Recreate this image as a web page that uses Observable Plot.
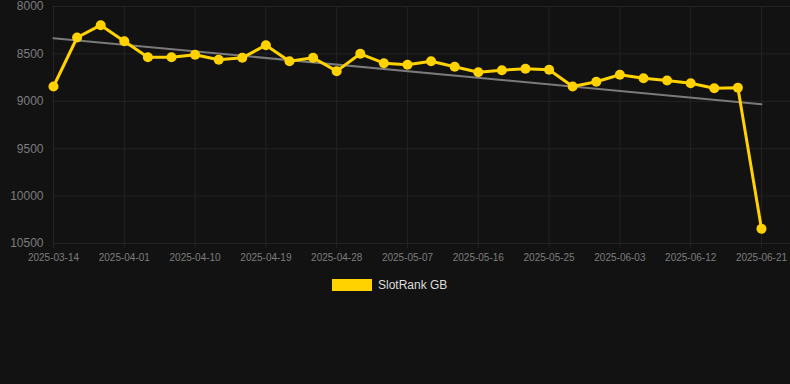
<!DOCTYPE html>
<html>
<head>
<meta charset="utf-8">
<script src="https://cdn.jsdelivr.net/npm/d3@7"></script>
<script src="https://cdn.jsdelivr.net/npm/@observablehq/plot@0.6"></script>
<style>
  html, body { margin: 0; padding: 0; background: #121212; }
  body { width: 790px; height: 384px; overflow: hidden; position: relative;
         font-family: "Liberation Sans", Arial, Helvetica, sans-serif; }
  #chart svg { display: block; }
  #legend { position: absolute; left: 332px; top: 278px; display: flex; align-items: center;
            font-size: 12px; color: #dddddd; }
  #legend .swatch { width: 40px; height: 12px; background: #FFD200; margin-right: 6px; }
</style>
</head>
<body>
<div id="chart"></div>
<div id="legend"><span class="swatch"></span><span id="legend-label"></span></div>
<script>
// ---- data ----
const seriesName = "SlotRank GB";
const dates = [
  "2025-03-14", "2025-03-26", "2025-03-29", "2025-04-01", "2025-04-04", "2025-04-07",
  "2025-04-10", "2025-04-13", "2025-04-16", "2025-04-19", "2025-04-22", "2025-04-25",
  "2025-04-28", "2025-05-01", "2025-05-04", "2025-05-07", "2025-05-10", "2025-05-13",
  "2025-05-16", "2025-05-19", "2025-05-22", "2025-05-25", "2025-05-28", "2025-05-31",
  "2025-06-03", "2025-06-06", "2025-06-09", "2025-06-12", "2025-06-15", "2025-06-18",
  "2025-06-21"
];
const ranks = [
  8844, 8327, 8197, 8366, 8535, 8535, 8509, 8562, 8541, 8408,
  8577, 8541, 8682, 8499, 8598, 8615, 8577, 8636, 8693, 8672,
  8657, 8668, 8844, 8794, 8720, 8756, 8781, 8809, 8862, 8858,
  10345
];
const trendRanks = [8334, 9031];           // trend line at first and last date
const yTicks = [8000, 8500, 9000, 9500, 10000, 10500];
const xTickLabels = ["2025-03-14", "2025-04-01", "2025-04-10", "2025-04-19", "2025-04-28",
  "2025-05-07", "2025-05-16", "2025-05-25", "2025-06-03", "2025-06-12", "2025-06-21"];

// ---- build ----
const points = ranks.map((v, i) => ({ i, date: dates[i], rank: v }));
const trend = [{ i: 0, rank: trendRanks[0] }, { i: dates.length - 1, rank: trendRanks[1] }];
const xTicks = xTickLabels.map(l => dates.indexOf(l));
const labelOf = i => dates[i];

const gridColor = "#232323";
const axisColor = "#7d7d7d";
const lineColor = "#FFD200";

const chart = Plot.plot({
  width: 790,
  height: 270,
  marginTop: 6,
  marginBottom: 27,
  marginLeft: 53,
  marginRight: 0,
  style: { background: "#121212", fontFamily: "\"Liberation Sans\", Arial, sans-serif" },
  x: { type: "linear", domain: [0, 31.23], axis: null, label: null },
  y: { domain: [8000, 10500], reverse: true, axis: null, label: null },
  marks: [
    Plot.gridY(yTicks, { stroke: gridColor, strokeOpacity: 1, strokeWidth: 1 }),
    Plot.gridX(xTicks, { stroke: gridColor, strokeOpacity: 1, strokeWidth: 1 }),
    Plot.axisX(xTicks, {
      tickFormat: labelOf, tickSize: 5, tickPadding: 5, stroke: gridColor,
      fontSize: 10, fill: axisColor, label: null
    }),
    Plot.axisY(yTicks, {
      tickFormat: d => String(d), tickSize: 0, tickPadding: 10, fontSize: 12,
      fill: axisColor, label: null
    }),
    Plot.line(trend, { x: "i", y: "rank", stroke: "#7a7a7a", strokeWidth: 2 }),
    Plot.line(points, { x: "i", y: "rank", stroke: lineColor, strokeWidth: 3, curve: "linear" }),
    Plot.dot(points, { x: "i", y: "rank", r: 5, fill: lineColor, stroke: "none" })
  ]
});
document.getElementById("chart").appendChild(chart);
document.getElementById("legend-label").textContent = seriesName;
</script>
</body>
</html>
